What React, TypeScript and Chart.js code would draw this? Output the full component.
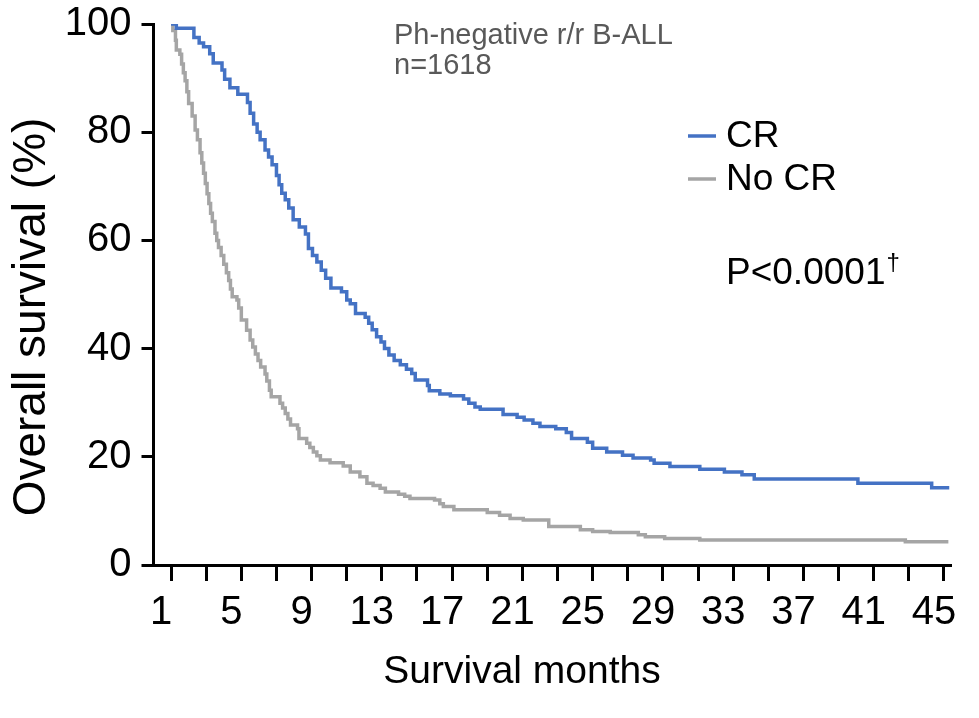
import React, { useEffect, useRef } from "react";
import { Chart, registerables } from "chart.js";

Chart.register(...registerables);

const FONT = "'Liberation Sans', Arial, sans-serif";

// ---- Data ----
const crMonths = [1.0, 1.3, 2.3, 2.6, 2.85, 3.2, 3.4, 3.9, 4.05, 4.35, 4.8, 5.35, 5.5, 5.7, 5.9, 6.07, 6.35, 6.55, 6.75, 7.0, 7.15, 7.3, 7.5, 7.7, 7.95, 8.3, 8.65, 8.82, 9.05, 9.3, 9.55, 9.8, 10.1, 10.7, 11.0, 11.2, 11.5, 12.05, 12.25, 12.45, 12.7, 12.95, 13.15, 13.4, 13.7, 14.05, 14.4, 14.7, 14.9, 15.6, 15.7, 16.3, 16.9, 17.65, 17.95, 18.3, 18.6, 19.9, 20.7, 21.1, 21.6, 22.0, 22.9, 23.5, 23.8, 24.7, 25.0, 25.8, 26.7, 27.3, 28.3, 28.5, 29.4, 31.1, 32.5, 33.5, 34.2, 40.1, 44.3, 45.3];
const crSurvival = [100, 99.2, 97.5, 96.5, 95.8, 94.5, 92.8, 91.5, 89.8, 88.2, 87.0, 85.5, 83.5, 81.5, 80.0, 78.6, 76.7, 75.4, 74.0, 72.0, 70.3, 68.7, 67.5, 66.0, 63.8, 62.5, 61.2, 58.5, 57.2, 56.0, 54.5, 53.0, 51.2, 50.5, 49.0, 48.3, 46.5, 45.8, 44.7, 43.5, 42.2, 41.2, 40.0, 38.8, 37.8, 37.0, 36.2, 35.4, 34.2, 33.2, 32.2, 31.6, 31.3, 30.7, 29.9, 29.2, 28.8, 27.8, 27.3, 26.8, 26.2, 25.6, 25.2, 24.5, 23.4, 22.7, 21.6, 20.9, 20.3, 19.8, 19.4, 18.8, 18.2, 17.7, 17.2, 16.7, 15.9, 15.1, 14.3, 14.3];

const noCrMonths = [1.0, 1.1, 1.25, 1.3, 1.5, 1.6, 1.7, 1.8, 1.9, 2.0, 2.2, 2.37, 2.5, 2.65, 2.75, 2.85, 2.95, 3.05, 3.15, 3.25, 3.35, 3.5, 3.6, 3.7, 3.85, 4.0, 4.15, 4.28, 4.38, 4.48, 4.75, 4.85, 5.0, 5.3, 5.5, 5.65, 5.8, 5.95, 6.1, 6.35, 6.45, 6.6, 6.7, 7.2, 7.35, 7.5, 7.65, 7.8, 8.2, 8.28, 8.72, 8.9, 9.1, 9.3, 9.5, 10.05, 10.8, 11.2, 11.75, 12.15, 12.5, 12.9, 13.2, 13.95, 14.3, 14.6, 16.0, 16.3, 16.5, 17.1, 19.0, 19.7, 20.3, 21.05, 22.5, 24.3, 25.0, 26.0, 27.6, 28.0, 29.1, 31.1, 42.8, 45.25];
const noCrSurvival = [100, 98.8, 97.0, 95.2, 94.4, 92.6, 91.0, 89.5, 87.5, 85.3, 83.0, 80.4, 78.6, 76.2, 74.3, 72.4, 70.5, 68.6, 66.8, 65.0, 63.5, 61.3, 60.0, 58.7, 57.2, 55.6, 54.0, 52.6, 51.0, 49.6, 49.0, 47.5, 45.3, 43.4, 41.6, 40.3, 39.0, 37.8, 36.6, 35.3, 34.0, 32.3, 31.1, 29.9, 29.0, 28.0, 27.0, 25.9, 25.2, 23.4, 22.5, 21.7, 20.9, 20.2, 19.4, 18.9, 18.3, 17.2, 16.3, 15.1, 14.7, 14.2, 13.5, 13.1, 12.7, 12.3, 12.0, 11.3, 10.8, 10.2, 9.7, 9.2, 8.6, 8.3, 7.1, 6.5, 6.2, 6.0, 5.6, 5.2, 4.9, 4.6, 4.3, 4.3];

const xTickValues = [1, 3, 5, 7, 9, 11, 13, 15, 17, 19, 21, 23, 25, 27, 29, 31, 33, 35, 37, 39, 41, 43, 45];
const xLabeledTicks = [1, 5, 9, 13, 17, 21, 25, 29, 33, 37, 41, 45];
const yTickValues = [0, 20, 40, 60, 80, 100];

const seriesNames = ["CR", "No CR"];
const xTitle = "Survival months";
const yTitle = "Overall survival (%)";
const subtitleLines = ["Ph-negative r/r B-ALL", "n=1618"];
const pValueText = "P<0.0001";
const pValueMark = "\u2020";

const BLUE = "#4472C4";
const GRAY = "#A5A5A5";

const annotationPlugin = {
  id: "kmAnnotations",
  afterDraw(chart: any) {
    const ctx = chart.ctx as CanvasRenderingContext2D;
    ctx.save();

    // Y axis title
    ctx.save();
    ctx.fillStyle = "#000";
    ctx.font = `46px ${FONT}`;
    ctx.textAlign = "center";
    ctx.textBaseline = "middle";
    ctx.translate(32, 317);
    ctx.rotate(-Math.PI / 2);
    ctx.fillText(yTitle, 0, 0);
    ctx.restore();

    // X axis title
    ctx.fillStyle = "#000";
    ctx.font = `39px ${FONT}`;
    ctx.textAlign = "center";
    ctx.textBaseline = "middle";
    ctx.fillText(xTitle, 522, 672);

    // Subtitle
    ctx.fillStyle = "#595959";
    ctx.font = `29px ${FONT}`;
    ctx.textAlign = "left";
    ctx.textBaseline = "alphabetic";
    ctx.fillText(subtitleLines[0], 394, 44);
    ctx.fillText(subtitleLines[1], 394, 74);

    // Legend
    const legendColors = [BLUE, GRAY];
    const legendY = [136, 179];
    ctx.font = `37px ${FONT}`;
    ctx.textBaseline = "middle";
    seriesNames.forEach((name, i) => {
      ctx.strokeStyle = legendColors[i];
      ctx.lineWidth = 3.5;
      ctx.beginPath();
      ctx.moveTo(688, legendY[i]);
      ctx.lineTo(716, legendY[i]);
      ctx.stroke();
      ctx.fillStyle = "#000";
      ctx.fillText(name, 726, legendY[i] + 1);
    });

    // P value
    ctx.fillStyle = "#000";
    ctx.font = `37px ${FONT}`;
    ctx.textBaseline = "alphabetic";
    ctx.fillText(pValueText, 726, 284);
    const w = ctx.measureText(pValueText).width;
    ctx.font = `24px ${FONT}`;
    ctx.fillText(pValueMark, 726 + w + 1, 270);

    ctx.restore();
  },
};

export default function App() {
  const canvasRef = useRef<HTMLCanvasElement | null>(null);

  useEffect(() => {
    const canvas = canvasRef.current;
    if (!canvas) return;
    const chart = new Chart(canvas, {
      type: "line",
      data: {
        datasets: [
          {
            label: seriesNames[0],
            data: crMonths.map((m, i) => ({ x: m, y: crSurvival[i] })),
            borderColor: BLUE,
            borderWidth: 3.5,
            pointRadius: 0,
            stepped: true,
            fill: false,
          },
          {
            label: seriesNames[1],
            data: noCrMonths.map((m, i) => ({ x: m, y: noCrSurvival[i] })),
            borderColor: GRAY,
            borderWidth: 3.5,
            pointRadius: 0,
            stepped: true,
            fill: false,
          },
        ],
      },
      options: {
        responsive: false,
        animation: false,
        devicePixelRatio: 1,
        layout: { padding: { top: 24, right: 28, left: 0, bottom: 0 } },
        plugins: {
          legend: { display: false },
          tooltip: { enabled: false },
          title: { display: false },
        },
        elements: { line: { tension: 0 } },
        scales: {
          x: {
            type: "linear",
            min: 0,
            max: 45.4,
            afterBuildTicks: (scale: any) => {
              scale.ticks = xTickValues.map((v) => ({ value: v }));
            },
            afterFit: (scale: any) => {
              scale.height = 153;
            },
            ticks: {
              autoSkip: false,
              maxRotation: 0,
              minRotation: 0,
              labelOffset: -10,
              padding: 8,
              color: "#000",
              font: { family: FONT, size: 40 },
              callback: (v: any) => (xLabeledTicks.includes(Number(v)) ? String(v) : ""),
            },
            grid: {
              drawOnChartArea: false,
              drawTicks: true,
              tickLength: 16,
              tickWidth: 3,
              tickColor: "#000",
            },
            border: { display: true, color: "#000", width: 3 },
          },
          y: {
            type: "linear",
            min: 0,
            max: 100,
            afterBuildTicks: (scale: any) => {
              scale.ticks = yTickValues.map((v) => ({ value: v }));
            },
            afterFit: (scale: any) => {
              scale.width = 153.5;
            },
            ticks: {
              padding: 10,
              color: "#000",
              font: { family: FONT, size: 40, lineHeight: 0.6 },
            },
            grid: {
              drawOnChartArea: false,
              drawTicks: true,
              tickLength: 12,
              tickWidth: 3,
              tickColor: "#000",
            },
            border: { display: true, color: "#000", width: 3 },
          },
        },
      },
      plugins: [annotationPlugin],
    });
    return () => chart.destroy();
  }, []);

  return (
    <div style={{ position: "absolute", left: 0, top: 0, width: 979, height: 718, background: "#fff" }}>
      <canvas ref={canvasRef} width={979} height={718} style={{ width: 979, height: 718, display: "block" }} />
    </div>
  );
}
